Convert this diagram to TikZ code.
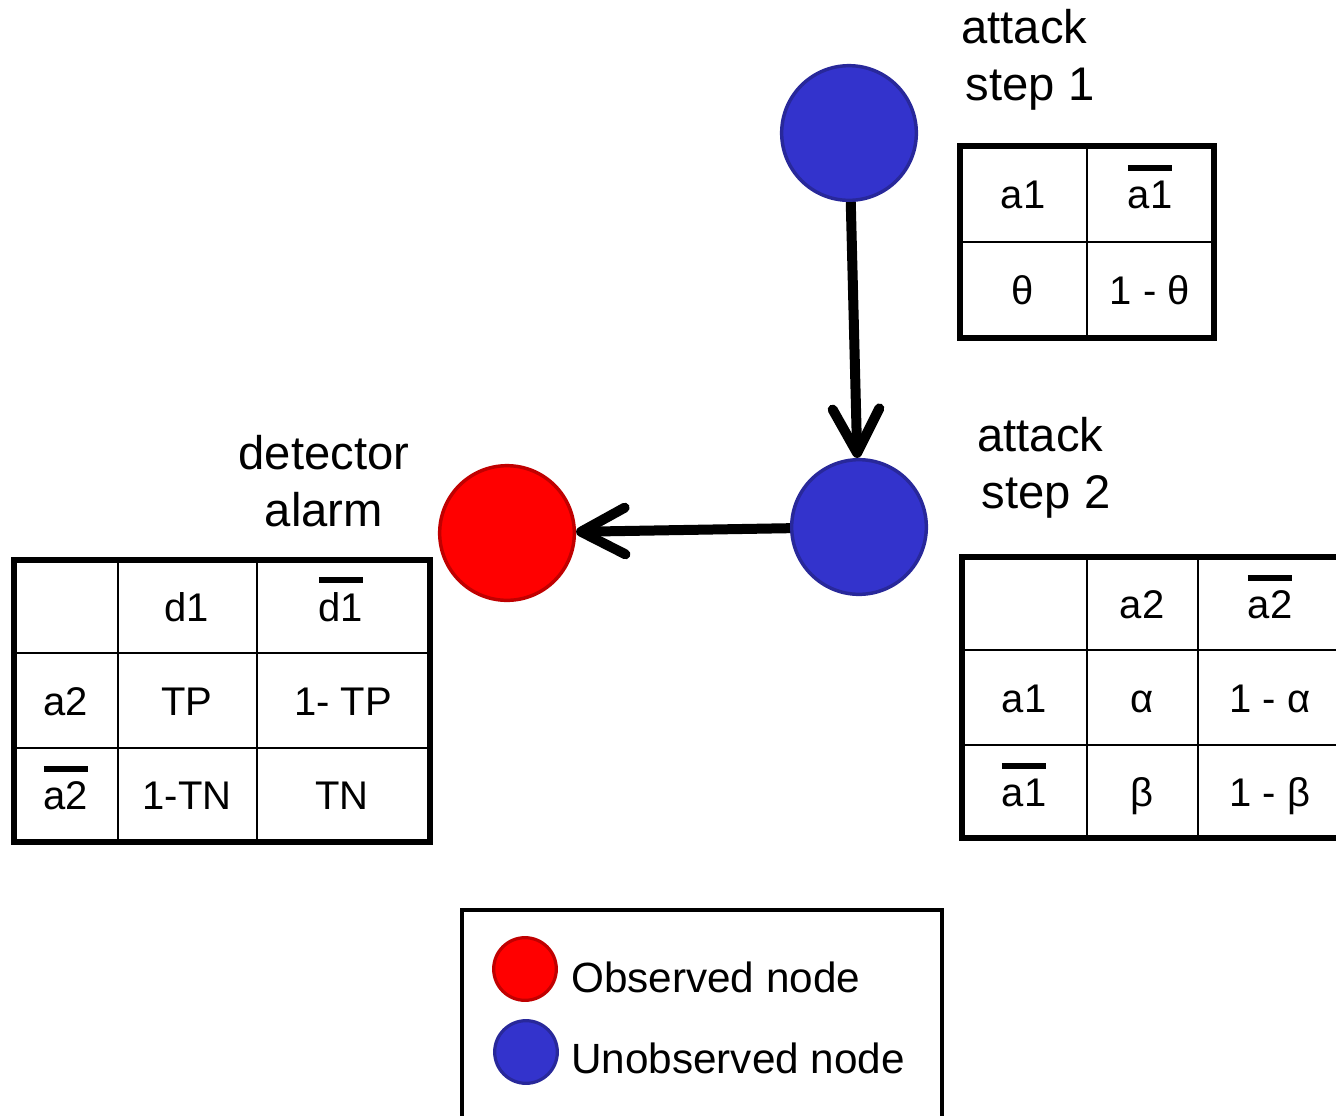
\documentclass[tikz,border=0pt]{standalone}
\usepackage{fontspec}
\setmainfont{Liberation Sans}
\usetikzlibrary{arrows.meta}
\definecolor{nodeblue}{HTML}{3333CC}
\definecolor{blueedge}{HTML}{28289A}
\definecolor{nodered}{HTML}{FF0000}
\definecolor{rededge}{HTML}{C00000}
\newcommand{\negbar}[1]{\vbox{\hrule height 4.5pt\kern 7pt\hbox{#1}}}
\begin{document}
\begin{tikzpicture}[x=0.75pt,y=-0.75pt,
  bluenode/.style={circle,fill=nodeblue,draw=blueedge,line width=2.6pt,minimum size=101pt,inner sep=0pt},
  rednode/.style={circle,fill=nodered,draw=rededge,line width=2.6pt,minimum size=101pt,inner sep=0pt},
  legblue/.style={circle,fill=nodeblue,draw=blueedge,line width=2.4pt,minimum size=47pt,inner sep=0pt},
  legred/.style={circle,fill=nodered,draw=rededge,line width=2.4pt,minimum size=47pt,inner sep=0pt},
  lbl/.style={font=\fontsize{35.4pt}{42.75pt}\selectfont,inner sep=0pt},
  cell/.style={anchor=base,font=\fontsize{30pt}{36pt}\selectfont,inner sep=0pt},
  legtext/.style={anchor=base west,font=\fontsize{31.7pt}{38pt}\selectfont,inner sep=0pt},
  outer/.style={line width=4.5pt},
  inner/.style={line width=2pt},
  conn/.style={line width=7.5pt,-{Straight Barb[length=33pt,width=35pt,round]}},
  legendbox/.style={line width=2.4pt}]
\useasboundingbox (0,0) rectangle (1336,1115);
\clip (0,0) rectangle (1336,1115);

% nodes
\node[bluenode] (s1) at (849,133) {};
\node[bluenode] (s2) at (859,527) {};
\node[rednode] (det) at (507,533) {};

% connectors
\draw[conn] (s1) -- (s2);
\draw[conn] (s2) -- (det);

% labels (base anchor = baseline of last line)
\node[lbl,align=left,anchor=base west] (l1) at (961,100) {attack\\\hspace*{3.5pt}step 1};
\node[lbl,align=left,anchor=base west] (l2) at (977,508) {attack\\\hspace*{3.5pt}step 2};
\node[lbl,align=center,anchor=base] (l3) at (324,526) {detector\\alarm};

% table 1
\draw[inner] (1087,146) -- (1087,338) (960,242) -- (1214,242);
\draw[outer] (960,146) rectangle (1214,338);
\node[cell] (t1a) at (1023,208) {a1};
\node[cell] (t1b) at (1150,208) {\negbar{a1}};
\node[cell] (t1c) at (1023,304) {θ};
\node[cell] (t1d) at (1150,304) {1 - θ};

% table 2
\draw[inner] (1087,557) -- (1087,838) (1198,557) -- (1198,838)
  (962,650) -- (1345,650) (962,745) -- (1345,745);
\draw[outer] (962,557) rectangle (1350,838);
\node[cell] (t2a) at (1142,618) {a2};
\node[cell] (t2b) at (1270,618) {\negbar{a2}};
\node[cell] (t2c) at (1024,712) {a1};
\node[cell] (t2d) at (1142,712) {α};
\node[cell] (t2e) at (1270,712) {1 - α};
\node[cell] (t2f) at (1024,806) {\negbar{a1}};
\node[cell] (t2g) at (1142,806) {β};
\node[cell] (t2h) at (1270,806) {1 - β};

% table 3
\draw[inner] (118,560) -- (118,842) (257,560) -- (257,842)
  (14,653) -- (430,653) (14,748) -- (430,748);
\draw[outer] (14,560) rectangle (430,842);
\node[cell] (t3a) at (187,621) {d1};
\node[cell] (t3b) at (341,621) {\negbar{d1}};
\node[cell] (t3c) at (66,715) {a2};
\node[cell] (t3d) at (187,715) {TP};
\node[cell] (t3e) at (343,715) {1- TP};
\node[cell] (t3f) at (66,809) {\negbar{a2}};
\node[cell] (t3g) at (187,809) {1-TN};
\node[cell] (t3h) at (342,809) {TN};

% legend
\draw[legendbox] (462,910) rectangle (942,1130);
\node[legred] (lr) at (525,969) {};
\node[legblue] (lb) at (526,1052) {};
\node[legtext] (lrt) at (571,992) {Observed node};
\node[legtext] (lbt) at (571,1073) {Unobserved node};
\end{tikzpicture}
\end{document}
